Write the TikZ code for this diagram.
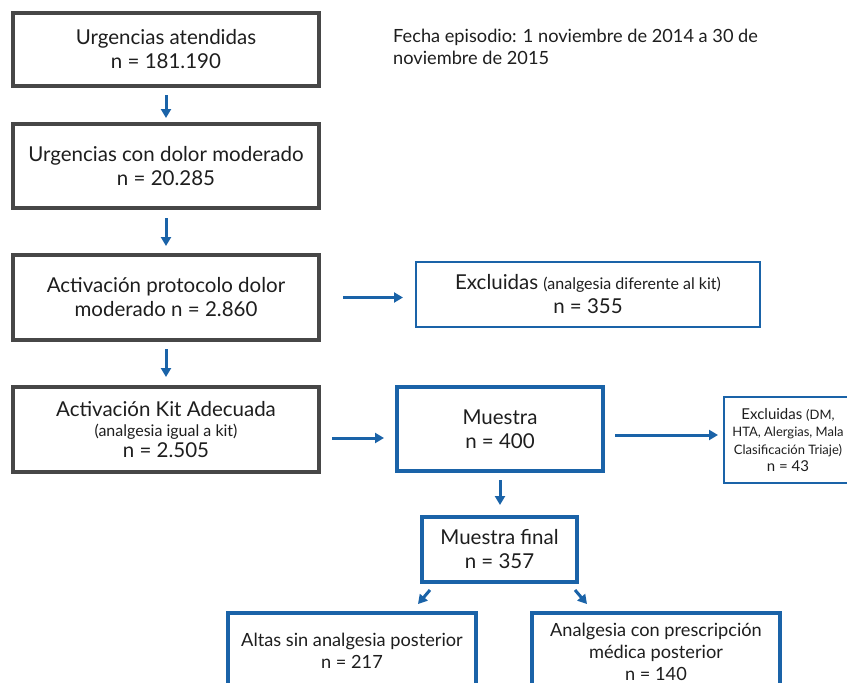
\documentclass[tikz,border=0pt]{standalone}
\usepackage{fontspec}
\setmainfont{Lato}
\usetikzlibrary{arrows.meta,calc}
\definecolor{bblue}{HTML}{1A63A8}
\definecolor{bgray}{HTML}{474747}
\definecolor{txt}{HTML}{1E1E1E}
\tikzset{
  basebox/.style={rectangle,inner sep=0pt,outer sep=0pt,align=center,text=txt,font=\fontsize{20.5}{24}\selectfont},
  graybox/.style={basebox,draw=bgray,line width=4pt},
  bluebox/.style={basebox,draw=bblue,line width=4pt},
  thinbox/.style={basebox,draw=bblue,line width=1.3pt},
  arr/.style={draw=bblue,line width=3pt,-{Triangle[width=10pt,length=9pt]}}
}
\newcommand{\smallfs}{\fontsize{16}{19}\selectfont}
\begin{document}
\begin{tikzpicture}[x=1pt,y=1pt]
\useasboundingbox (0,0) rectangle (847,-683);
\clip (0,0) rectangle (847,-683);
\fill[white] (0,0) rectangle (847,-683);

\node[graybox,minimum width=306pt,minimum height=73pt] (b1) at (166,-49.5) {Urgencias atendidas\\n = 181.190};
\node[graybox,minimum width=306pt,minimum height=84pt] (b2) at (166,-166) {Urgencias con dolor moderado\\n = 20.285};
\node[graybox,minimum width=306pt,minimum height=85pt] (b3) at (166,-297.5) {Activación protocolo dolor\\moderado n = 2.860};
\node[graybox,minimum width=306pt,minimum height=85pt] (b4) at (166,-429.5) {Activación Kit Adecuada\\[-4pt]{\smallfs (analgesia igual a kit)}\\[-3pt]n = 2.505};

\node[thinbox,minimum width=344pt,minimum height=65pt] (e1) at (588,-294.5) {Excluidas {\smallfs (analgesia diferente al kit)}\\n = 355};
\node[bluebox,minimum width=206pt,minimum height=84pt] (mu) at (500,-429) {Muestra\\n = 400};
\node[thinbox,minimum width=128pt,minimum height=86pt,font=\fontsize{15}{17.5}\selectfont] (e2) at (788,-440) {Excluidas {\fontsize{13}{16}\selectfont (DM,}\\{\fontsize{13}{16}\selectfont HTA, Alergias, Mala}\\{\fontsize{13}{16}\selectfont Clasificación Triaje)}\\n = 43};
\node[bluebox,minimum width=155pt,minimum height=65pt] (mf) at (499.5,-549.5) {Muestra final\\n = 357};
\node[bluebox,minimum width=248pt,minimum height=75pt,anchor=north,font=\fontsize{18.2}{22}\selectfont] (al) at (352,-613) {Altas sin analgesia posterior\\n = 217};
\node[bluebox,minimum width=248pt,minimum height=77pt,anchor=north,font=\fontsize{18.2}{22}\selectfont] (an) at (656,-613) {Analgesia con prescripción\\médica posterior\\n = 140};

\node[anchor=north west,align=left,text=txt,font=\fontsize{18.2}{22}\selectfont,inner sep=0pt] (fe) at (393,-29) {Fecha episodio: 1 noviembre de 2014 a 30 de\\noviembre de 2015};

\draw[arr,shorten <=9pt,shorten >=6pt] (b1.south) -- (b2.north);
\draw[arr,shorten <=10pt,shorten >=9pt] (b2.south) -- (b3.north);
\draw[arr,shorten <=9pt,shorten >=10pt] (b3.south) -- (b4.north);
\draw[arr,shorten <=24pt,shorten >=13pt] (b3.east) -- (b3.east -| e1.west);
\draw[arr,shorten <=13pt,shorten >=13pt] ([yshift=-8.5pt]b4.east) -- ([yshift=-8.5pt]b4.east -| mu.west);
\draw[arr,shorten <=12pt,shorten >=6pt] ([yshift=-6pt]mu.east) -- ([yshift=-6pt]mu.east -| e2.west);
\draw[arr,shorten <=9pt,shorten >=12pt] (mu.south) -- (mu.south |- mf.north);

\coordinate (l0) at (430,-590);
\coordinate (l1) at (418,-604);
\coordinate (r0) at (575,-590);
\coordinate (r1) at (587,-604);
\draw[arr] (l0) -- (l1);
\draw[arr] (r0) -- (r1);
\end{tikzpicture}
\end{document}
